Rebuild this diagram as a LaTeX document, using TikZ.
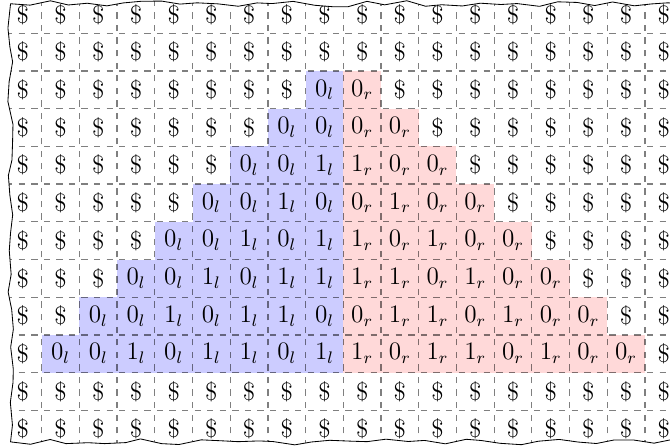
\documentclass[tikz,border=0pt]{standalone}
\newcommand\wavyframe{(0.28,-0.1)
  \foreach \i in {1,...,35}{ -- ({0.28+\i*0.5+0.08*rand},{-0.1+0.08*rand}) }
  -- (18.3,-0.1) -- (18.3,-11.72)
  \foreach \i in {1,...,35}{ -- ({18.3-\i*0.5+0.08*rand},{-11.72+0.08*rand}) }
  -- (0.28,-11.72)
  \foreach \i in {1,...,22}{ -- ({0.28+0.08*rand},{-11.72+\i*0.5+0.08*rand}) }
  -- cycle}
\begin{document}
\begin{tikzpicture}[x=18pt,y=18pt,
  cell/.style={minimum size=18pt, inner sep=0pt, outer sep=0pt, font=\fontsize{12}{14}\selectfont},
  lcell/.style={cell, fill=blue!20},
  rcell/.style={cell, fill=red!15},
  gridline/.style={draw=black, draw opacity=0.5, line width=0.6pt, dash pattern=on 3pt off 3pt, dash phase=5pt},
  frame/.style={draw=black, line join=round}]
\useasboundingbox (0,0) rectangle (17.77,-11.83);
\pgfmathsetseed{7}
\draw[frame] \wavyframe;
\pgfmathsetseed{7}
\clip \wavyframe;
\foreach \r in {0,...,11}{
  \foreach \k in {0,...,17}{
    \pgfmathtruncatemacro{\n}{(\r>=2 && \r<=9) ? \r-1 : 0}
    \pgfmathtruncatemacro{\side}{(\k>=9-\n && \k<=8) ? 1 : ((\k>=9 && \k<=8+\n) ? 2 : 0)}
    \ifnum\side=1
      \pgfmathtruncatemacro{\d}{{0,0,1,0,1,1,0,1}[\k-9+\n]}
      \node[lcell] (c-\k-\r) at ({0.606+\k},{-0.383-\r}) {$\d_l$};
    \else\ifnum\side=2
      \pgfmathtruncatemacro{\d}{{0,0,1,0,1,1,0,1}[\n+8-\k]}
      \node[rcell] (c-\k-\r) at ({0.606+\k},{-0.383-\r}) {$\d_r$};
    \else
      \node[cell] (c-\k-\r) at ({0.606+\k},{-0.383-\r}) {\$};
    \fi\fi
  }
}
\foreach \i in {0,...,18}{
  \draw[gridline] ({0.106+\i},-11.883) -- ({0.106+\i},0.117);
}
\foreach \j in {0,...,12}{
  \draw[gridline] (0.106,{0.117-\j}) -- (18.106,{0.117-\j});
}
\end{tikzpicture}
\end{document}
